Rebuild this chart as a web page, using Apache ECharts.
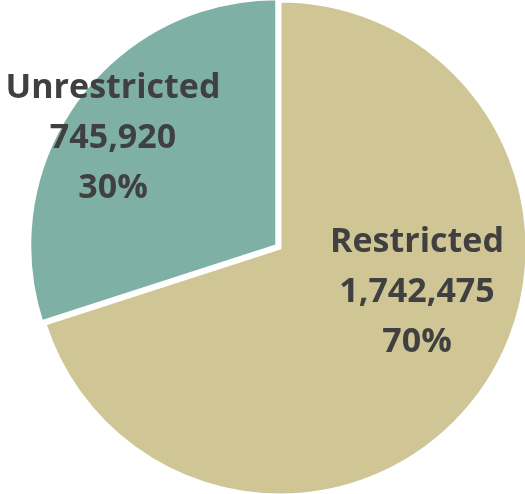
<!DOCTYPE html>
<html><head><meta charset="utf-8">
<script src="https://cdn.jsdelivr.net/npm/echarts@6/dist/echarts.min.js"></script>
<style>html,body{margin:0;padding:0;background:#fff}#c{width:525px;height:494px}</style>
</head><body><div id="c"></div>
<script>
const categories = ['Restricted', 'Unrestricted'];
const values = [1742475, 745920];
const percents = ['70%', '30%'];
const colors = ['#D0C594', '#7FB0A5'];
const labelPos = [[417, 292], [113, 138]];

const chart = echarts.init(document.getElementById('c'));
chart.setOption({
  animation: false,
  graphic: categories.map((c, i) => ({
    type: 'text',
    x: labelPos[i][0],
    y: labelPos[i][1],
    z: 100,
    style: {
      text: c + '\n' + values[i].toLocaleString('en-US') + '\n' + percents[i],
      fontFamily: 'Open Sans',
      fontWeight: 'bold',
      fontSize: 34,
      lineHeight: 50,
      fill: '#404040',
      align: 'center',
      verticalAlign: 'middle'
    }
  })),
  series: [{
    type: 'pie',
    center: [280, 248],
    radius: 247,
    startAngle: 90,
    clockwise: true,
    selectedMode: 'multiple',
    selectedOffset: 4,
    itemStyle: { borderColor: '#fff', borderWidth: 3 },
    label: { show: false },
    labelLine: { show: false },
    data: categories.map((c, i) => ({ name: c, value: values[i], selected: i === 1, itemStyle: { color: colors[i] } }))
  }]
});
</script></body></html>
